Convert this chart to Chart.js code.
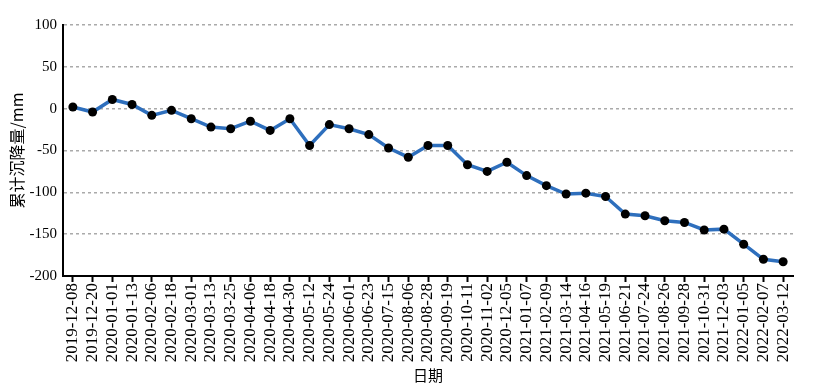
<!DOCTYPE html>
<html>
<head>
<meta charset="utf-8">
<script src="https://cdn.jsdelivr.net/npm/chart.js@4/dist/chart.umd.min.js"></script>
<style>
  body { margin: 0; background: #fff; }
  canvas { display: block; }
</style>
</head>
<body>
<canvas id="settleChart" width="813" height="392"></canvas>
<script>
// survey dates
const dates = [
    '2019-12-08', '2019-12-20', '2020-01-01', '2020-01-13', '2020-02-06', '2020-02-18',
    '2020-03-01', '2020-03-13', '2020-03-25', '2020-04-06', '2020-04-18', '2020-04-30',
    '2020-05-12', '2020-05-24', '2020-06-01', '2020-06-23', '2020-07-15', '2020-08-06',
    '2020-08-28', '2020-09-19', '2020-10-11', '2020-11-02', '2020-12-05', '2021-01-07',
    '2021-02-09', '2021-03-14', '2021-04-16', '2021-05-19', '2021-06-21', '2021-07-24',
    '2021-08-26', '2021-09-28', '2021-10-31', '2021-12-03', '2022-01-05', '2022-02-07',
    '2022-03-12'
];
// cumulative settlement (mm)
const settlement = [
    2, -4, 11, 5, -8, -2, -12, -22, -24, -15, -26, -12,
    -44, -19, -24, -31, -47, -58, -44, -44, -67, -75, -64, -80,
    -92, -102, -101, -105, -126, -128, -134, -136, -145, -144, -162, -180,
    -183
];
const yTicks = [100, 50, 0, -50, -100, -150, -200];

const serif = 'Liberation Serif';
const cjk = 'Noto Sans CJK SC';

const ctx = document.getElementById('settleChart').getContext('2d');
const settleChart = new Chart(ctx, {
    type: 'line',
    data: {
        labels: dates,
        datasets: [{
            label: '累计沉降量',
            data: settlement,
            borderColor: '#2e6fbd',
            borderWidth: 3.5,
            pointRadius: 4.5,
            pointBackgroundColor: '#000',
            pointBorderColor: '#000',
            pointBorderWidth: 0,
            tension: 0,
            fill: false,
        }]
    },
    options: {
        responsive: false,
        animation: false,
        layout: {
            padding: { left: 0, right: 20, top: 25, bottom: 0 }
        },
        plugins: {
            legend: { display: false },
            tooltip: { enabled: false },
        },
        scales: {
            x: {
                offset: true,
                grid: {
                    drawOnChartArea: false,
                    drawTicks: true,
                    tickLength: 6,
                    tickColor: '#000',
                    tickWidth: 2,
                    offset: false,
                },
                border: { color: '#000', width: 2 },
                ticks: {
                    autoSkip: false,
                    maxRotation: 90,
                    minRotation: 90,
                    padding: 1,
                    color: '#000',
                    font: { family: serif, size: 17 },
                },
                title: {
                    display: true,
                    text: '日期',
                    color: '#000',
                    font: { family: cjk, size: 15 },
                    padding: { top: 0, bottom: 8 },
                },
                afterFit: (scale) => { scale.height = 116; },
            },
            y: {
                min: -200,
                max: 100,
                afterBuildTicks: (scale) => {
                    scale.ticks = yTicks.map(v => ({ value: v }));
                },
                grid: {
                    color: '#aaa',
                    lineWidth: 1.5,
                    drawTicks: false,
                },
                border: { color: '#000', width: 2, dash: [3, 3] },
                ticks: {
                    padding: 6,
                    color: '#000',
                    font: { family: serif, size: 15 },
                },
                title: {
                    display: true,
                    text: '累计沉降量/mm',
                    color: '#000',
                    font: { family: cjk, size: 16 },
                    padding: { top: 7, bottom: 0 },
                },
                afterFit: (scale) => { scale.width = 63; },
            }
        }
    }
});
</script>
</body>
</html>
